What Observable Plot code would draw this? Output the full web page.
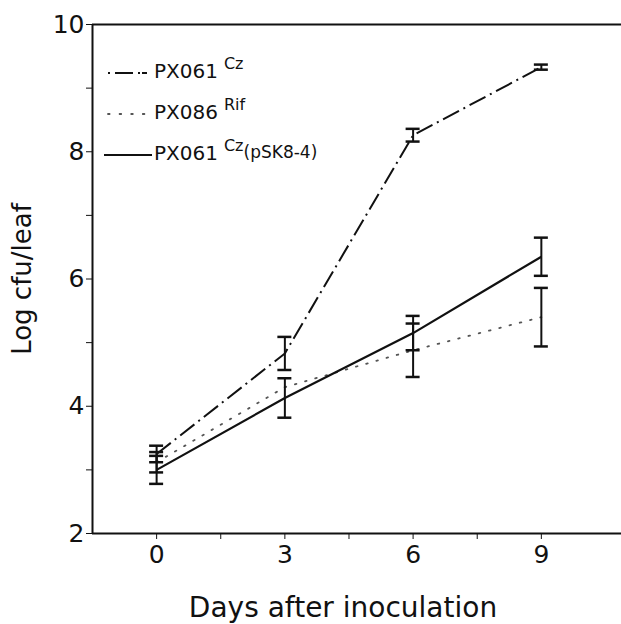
<!DOCTYPE html>
<html>
<head>
<meta charset="utf-8">
<script src="https://cdn.jsdelivr.net/npm/d3@7"></script>
<script src="https://cdn.jsdelivr.net/npm/@observablehq/plot@0.6"></script>
<style>
  body { margin: 0; background: #fff; }
  #wrap { position: relative; width: 621px; height: 624px; font-family: "DejaVu Sans", sans-serif; }
  #legend { position: absolute; left: 102px; top: 50px; font-size: 20px; color: #111; }
  .item { display: flex; align-items: center; height: 41px; }
  .item svg { width: 52px; height: 20px; }
  sup { font-size: 16px; position: relative; top: -7px; margin-left: 6px; vertical-align: baseline; }
  sup + span { font-size: 17px; position: relative; top: -1px; }
</style>
</head>
<body>
<div id="wrap"></div>
<script>
// Data
const days = [0, 3, 6, 9];
const strains = ["PX061 Cz", "PX086 Rif", "PX061 Cz (pSK8-4)"];
const cz = [3.25, 4.83, 8.26, 9.33];
const czErr = [0.13, 0.26, 0.1, 0.04];
const rif = [3.12, 4.3, 4.88, 5.4];
const rifErr = [0.16, 0, 0.42, 0.46];
const psk = [3.0, 4.13, 5.15, 6.35];
const pskErr = [0.22, 0.31, 0.27, 0.3];
const yTicks = [2, 3, 4, 5, 6, 7, 8, 9, 10];
const xTicks = [0, 1.5, 3, 4.5, 6, 7.5, 9];
const xLabel = "Days after inoculation";
const yLabel = "Log cfu/leaf";

const styles = {
  "PX061 Cz": {dash: "18,5,2,5", width: 2, color: "#111"},
  "PX086 Rif": {dash: "1.6,9", width: 1.8, color: "#555"},
  "PX061 Cz (pSK8-4)": {dash: null, width: 2.2, color: "#111"}
};

const series = [[cz, czErr], [rif, rifErr], [psk, pskErr]];
const rows = [];
strains.forEach((s, i) => days.forEach((d, j) => rows.push({strain: s, day: d, v: series[i][0][j], e: series[i][1][j]})));
const bars = rows.filter(r => r.e > 0);
const caps = bars.flatMap(r => [{...r, c: r.v + r.e}, {...r, c: r.v - r.e}]);

const font = "DejaVu Sans, sans-serif";
const marks = [
  Plot.ruleY([2, 10], {stroke: "#111", strokeWidth: 2}),
  Plot.ruleX([-1.5], {stroke: "#111", strokeWidth: 2}),
  Plot.axisY({ticks: yTicks, tickSize: 6, tickPadding: 2, fontSize: 25,
    tickFormat: d => d % 2 === 0 ? d : "", label: null}),
  Plot.axisX({ticks: xTicks, tickSize: 6, tickPadding: 6, fontSize: 25,
    tickFormat: d => Number.isInteger(d) ? d : "", label: null}),
  ...strains.map(s => Plot.line(rows.filter(r => r.strain === s), {
    x: "day", y: "v", stroke: styles[s].color, strokeWidth: styles[s].width,
    strokeDasharray: styles[s].dash, strokeLinecap: s === "PX086 Rif" ? "round" : "butt"
  })),
  Plot.ruleX(bars, {x: "day", y1: d => d.v - d.e, y2: d => d.v + d.e, stroke: "#111", strokeWidth: 2}),
  Plot.ruleY(caps, {y: "c", x1: "day", x2: "day", insetLeft: -7, insetRight: -7, stroke: "#111", strokeWidth: 2.5}),
  Plot.text([xLabel], {frameAnchor: "bottom", text: d => d, dy: 75, dx: -14, fontSize: 28, fill: "#111",
    textAnchor: "middle", lineAnchor: "middle", style: {letterSpacing: "0.6px"}}),
  Plot.text([yLabel], {frameAnchor: "left", text: d => d, rotate: -90, dx: -70, fontSize: 26, fill: "#111",
    textAnchor: "middle", lineAnchor: "middle"})
];

const chart = Plot.plot({
  width: 621,
  height: 624,
  marginLeft: 92,
  marginRight: 0,
  marginTop: 24,
  marginBottom: 91,
  style: {fontFamily: font, color: "#111", background: "#fff", overflow: "visible"},
  x: {domain: [-1.5, 10.875]},
  y: {domain: [2, 10]},
  marks
});
const wrap = document.getElementById("wrap");
wrap.appendChild(chart);

// Legend overlay
const legend = document.createElement("div");
legend.id = "legend";
const names = [["PX061", "Cz", ""], ["PX086", "Rif", ""], ["PX061", "Cz", "(pSK8-4)"]];
strains.forEach((s, i) => {
  const st = styles[s];
  const item = document.createElement("div");
  item.className = "item";
  const dash = s === "PX061 Cz" ? "2,5,18,5,2" : "1.6,10";
  item.innerHTML = `<svg><line x1="${i === 2 ? 2 : 6}" x2="50" y1="12" y2="12" stroke="${st.color}" stroke-width="${st.width}"
     ${st.dash ? `stroke-dasharray="${dash}"` : ""} stroke-linecap="${s === "PX086 Rif" ? "round" : "butt"}"/></svg>
     <span>${names[i][0]}</span><sup>${names[i][1]}</sup><span>${names[i][2]}</span>`;
  legend.appendChild(item);
});
wrap.appendChild(legend);
</script>
</body>
</html>
